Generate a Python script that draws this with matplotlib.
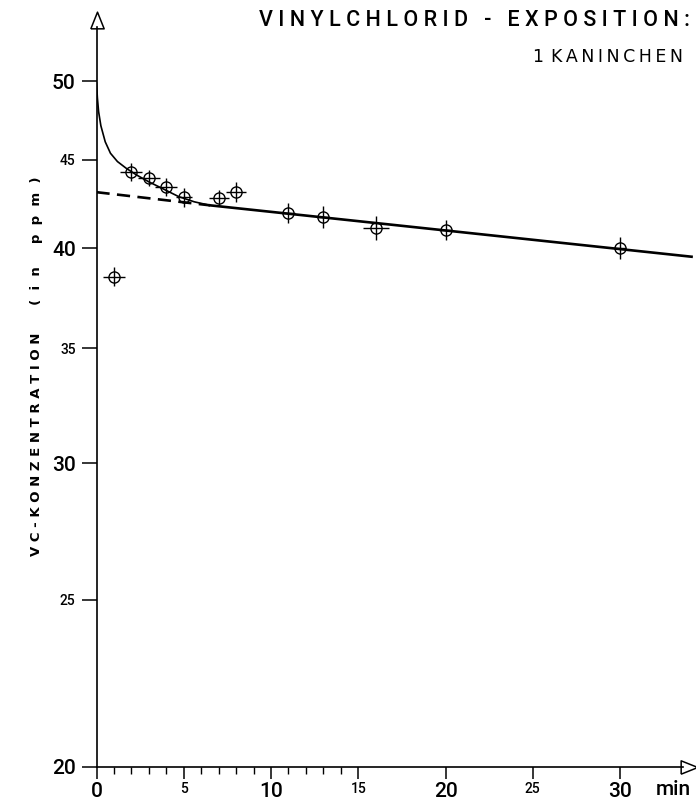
import matplotlib
matplotlib.use("Agg")
import matplotlib.pyplot as plt
from matplotlib.ticker import FixedLocator, NullLocator
from matplotlib.transforms import offset_copy

plt.rcParams["font.family"] = ["Roboto", "DejaVu Sans"]

# measured points (time in min, VC concentration in ppm)
T_MIN = [1, 2, 3, 4, 5, 7, 8, 11, 13, 16, 20, 30]
VC_PPM = [38.5, 44.3, 43.9, 43.4, 42.8, 42.75, 43.1, 41.9, 41.7, 41.1, 41.0, 40.0]
X_ERR = [0.65, 0.63, 0.63, 0.63, 0.45, 0.57, 0.57, 0.35, 0.35, 0.75, 0.40, 0.35]
Y_ERR = [0.49, 0.53, 0.47, 0.52, 0.57, 0.46, 0.58, 0.56, 0.61, 0.66, 0.55, 0.59]

# drawn fit: fast initial phase (curve) + slow exponential (straight on log axis)
CURVE_T = [0, 0.05, 0.12, 0.25, 0.5, 0.8, 1.2, 1.7, 2.3, 3.0, 3.8, 4.7, 5.6, 6.5]
CURVE_V = [49.9, 48.9, 48.0, 47.1, 46.1, 45.4, 44.9, 44.5, 44.1, 43.7, 43.3, 42.85, 42.55, 42.35]
DASH_T = [0, 6.5]
DASH_V = [43.1, 42.35]
FIT_T = [6.5, 34.1]
FIT_V = [42.35, 39.54]

Y_TICKS = [20, 25, 30, 35, 40, 45, 50]
Y_BIG = [20, 30, 40, 50]
X_TICKS = [0, 5, 10, 15, 20, 25, 30]
X_BIG = [0, 10, 20, 30]
X_MINOR = [1, 2, 3, 4, 6, 7, 8, 9, 11, 12, 13, 14]

W, H = 696, 806
fig = plt.figure(figsize=(W / 100, H / 100), dpi=100)
x0, x1, y0, y1 = 96.5, 683, 767, 27
ax = fig.add_axes([x0 / W, (H - y0) / H, (x1 - x0) / W, (y0 - y1) / H])
ax.set_yscale("log")
ax.set_xlim(0, (x1 - x0) / 17.45)
ax.set_ylim(20, 53.74)

for s in ("top", "right"):
    ax.spines[s].set_visible(False)
for s in ("left", "bottom"):
    ax.spines[s].set_linewidth(1.2)

ax.errorbar(T_MIN, VC_PPM, xerr=X_ERR, yerr=Y_ERR, fmt="o", ms=8, mfc="none",
            mec="black", mew=1.0, ecolor="black", elinewidth=1.0, capsize=0, zorder=3)
ax.plot(CURVE_T, CURVE_V, color="black", lw=1.2, solid_capstyle="round")
ax.plot(DASH_T, DASH_V, color="black", lw=1.9, dashes=(5, 2.8))
ax.plot(FIT_T, FIT_V, color="black", lw=1.9, clip_on=False)

# y axis ticks / labels
ax.yaxis.set_major_locator(FixedLocator(Y_TICKS))
ax.yaxis.set_minor_locator(NullLocator())
ax.set_yticklabels([str(v) for v in Y_TICKS])
ax.tick_params(axis="y", direction="out", length=11, width=1.1, pad=4)
for lab, v in zip(ax.get_yticklabels(), Y_TICKS):
    lab.set_fontsize(15 if v in Y_BIG else 10)
    lab.set_fontweight("medium")

# x axis ticks / labels
ax.xaxis.set_major_locator(FixedLocator(X_TICKS))
ax.xaxis.set_minor_locator(FixedLocator(X_MINOR))
ax.set_xticklabels([str(v) for v in X_TICKS])
ax.tick_params(axis="x", which="major", direction="out", length=8.5, width=1.1, pad=2.5)
ax.tick_params(axis="x", which="minor", direction="out", length=5, width=1.0)
for lab, v in zip(ax.get_xticklabels(), X_TICKS):
    lab.set_fontsize(15 if v in X_BIG else 10)
    lab.set_fontweight("medium")

# arrow heads at the ends of the axes
tri = [(-0.8, -1), (0.8, -1), (0, 1), (-0.8, -1)]
ax.plot([0], [1], marker=tri, ms=12, mfc="white", mec="black", mew=1.1, clip_on=False,
        transform=offset_copy(ax.transAxes, fig=fig, x=0, y=7, units="dots"))
tri_r = [(-1, -0.8), (-1, 0.8), (1, 0), (-1, -0.8)]
ax.plot([1], [0], marker=tri_r, ms=12, mfc="white", mec="black", mew=1.1, clip_on=False,
        transform=offset_copy(ax.transAxes, fig=fig, x=6, y=0, units="dots"))

ax.text(1.0, 0, "min", transform=offset_copy(ax.transAxes, fig=fig, x=-10, y=-13, units="dots"),
        fontsize=15, fontweight="medium", ha="center", va="top")

fig.text(37 / W, 1 - 366 / H,
         "V C - K O N Z E N T R A T I O N      (  i  n     p  p  m  )",
         rotation=90, ha="center", va="center", fontsize=9.5, fontweight="bold",
         family=["DejaVu Sans"])

fig.text(690 / W, 1 - 20 / H, "V I N Y L C H L O R I D   -   E X P O S I T I O N :",
         ha="right", va="center", fontsize=15.5, fontweight="medium")
fig.text(683 / W, 1 - 57 / H, "1\u2009\u2009K\u2009A\u2009N\u2009I\u2009N\u2009C\u2009H\u2009E\u2009N",
         ha="right", va="center", fontsize=12.5, family=["DejaVu Sans"])

fig.savefig("out.png", dpi=100, facecolor="white")
